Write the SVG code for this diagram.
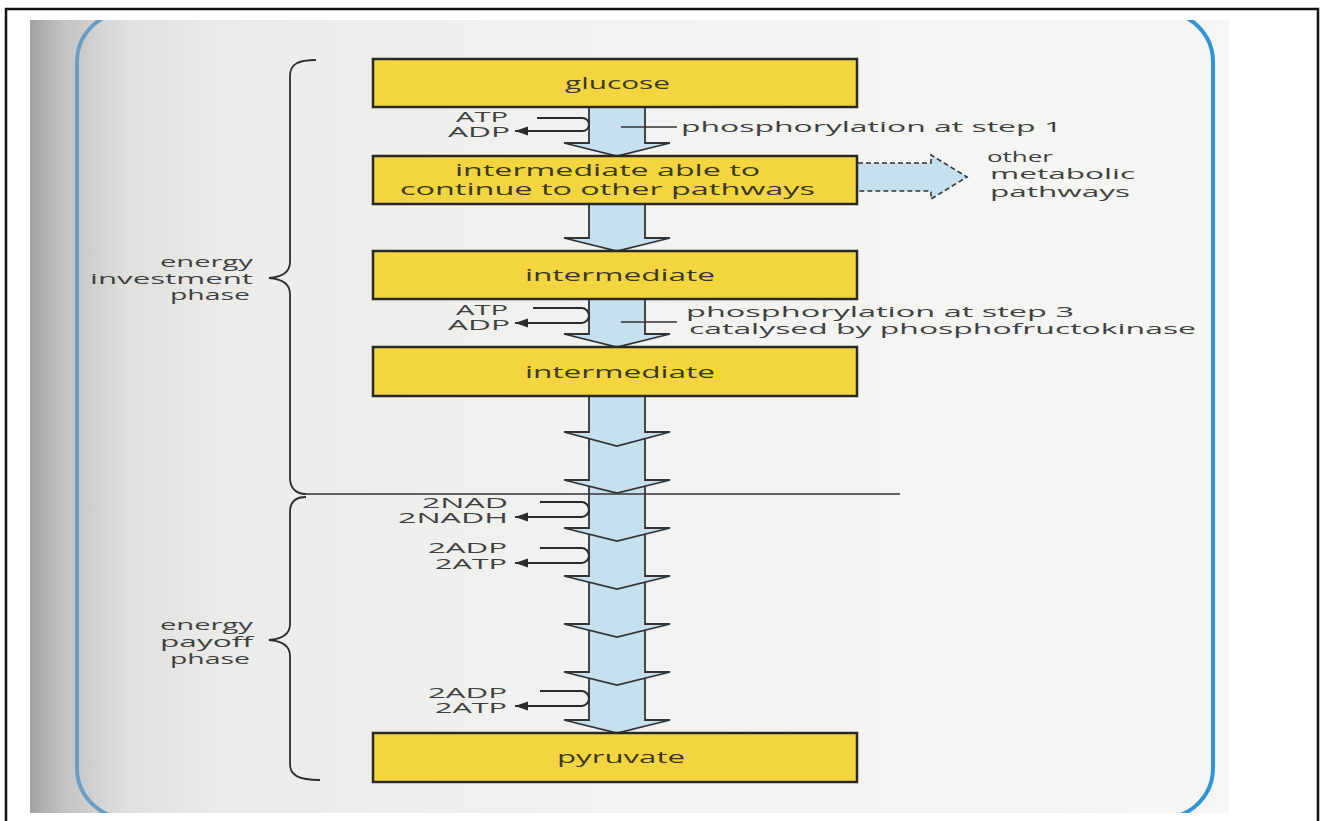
<svg xmlns="http://www.w3.org/2000/svg" width="1321" height="821" viewBox="0 0 1321 821">
<defs>
  <linearGradient id="paper" x1="30" y1="0" x2="1229" y2="0" gradientUnits="userSpaceOnUse">
    <stop offset="0" stop-color="#a3a3a3"/>
    <stop offset="0.03" stop-color="#c4c4c4"/>
    <stop offset="0.08" stop-color="#dfdfdd"/>
    <stop offset="0.16" stop-color="#ebebe9"/>
    <stop offset="0.5" stop-color="#f2f2f0"/>
    <stop offset="1" stop-color="#f6f6f4"/>
  </linearGradient>
  <linearGradient id="rim" x1="77" y1="0" x2="1213" y2="0" gradientUnits="userSpaceOnUse">
    <stop offset="0" stop-color="#6c9dc4"/>
    <stop offset="0.15" stop-color="#4f9fd2"/>
    <stop offset="1" stop-color="#2f95d8"/>
  </linearGradient>
  <clipPath id="photo"><rect x="30" y="20" width="1199" height="793"/></clipPath>
  <marker id="ah" markerUnits="userSpaceOnUse" markerWidth="14" markerHeight="10" refX="13" refY="4.5" orient="auto">
    <path d="M0,0 L13,4.5 L0,9 z" fill="#2b2b2b"/>
  </marker>
  <style>
    .box{fill:#f3d63f;stroke:#2a2a22;stroke-width:2.5}
    .bt{font-family:"Open Sans","DejaVu Sans",sans-serif;font-size:16px;fill:#3a3820}
    .sm{font-family:"Open Sans","DejaVu Sans",sans-serif;font-size:14px;fill:#404040}
    .af{fill:#c6e0f0;stroke:none}
    .as{fill:none;stroke:#333;stroke-width:1.8;stroke-linejoin:miter}
    .hook{fill:none;stroke:#2b2b2b;stroke-width:2;marker-end:url(#ah)}
    .ln{fill:none;stroke:#333;stroke-width:1.6}
    .br{fill:none;stroke:#2e2e2e;stroke-width:1.8}
    .dash{fill:none;stroke:#333;stroke-width:1.6;stroke-dasharray:5 3}
  </style>
</defs>

<rect x="0" y="0" width="1321" height="821" fill="#ffffff"/>
<rect x="6" y="9" width="1312" height="830" fill="none" stroke="#111" stroke-width="2.5"/>

<g id="page" clip-path="url(#photo)">
  <rect x="30" y="20" width="1199" height="793" fill="url(#paper)"/>
  <rect x="77" y="12" width="1136" height="806" rx="50" ry="50" fill="none" stroke="url(#rim)" stroke-width="4"/>
</g>

<g id="connectors">
  <g id="flow">
    <path class="af" d="M589,672 V720 H564 L617,733 L670,720 H645 V672 Z"/>
    <path class="as" d="M589,672 V720 H564 L617,733 L670,720 H645 V672"/>
    <path class="af" d="M589,624 V672 H564 L617,685 L670,672 H645 V624 Z"/>
    <path class="as" d="M589,624 V672 H564 L617,685 L670,672 H645 V624"/>
    <path class="af" d="M589,576 V624 H564 L617,637 L670,624 H645 V576 Z"/>
    <path class="as" d="M589,576 V624 H564 L617,637 L670,624 H645 V576"/>
    <path class="af" d="M589,528 V576 H564 L617,589 L670,576 H645 V528 Z"/>
    <path class="as" d="M589,528 V576 H564 L617,589 L670,576 H645 V528"/>
    <path class="af" d="M589,480 V528 H564 L617,541 L670,528 H645 V480 Z"/>
    <path class="as" d="M589,480 V528 H564 L617,541 L670,528 H645 V480"/>
    <path class="af" d="M589,432 V480 H564 L617,493 L670,480 H645 V432 Z"/>
    <path class="as" d="M589,432 V480 H564 L617,493 L670,480 H645 V432"/>
    <path class="af" d="M589,396 V432 H564 L617,446 L670,432 H645 V396 Z"/>
    <path class="as" d="M589,396 V432 H564 L617,446 L670,432 H645 V396"/>
    <path class="af" d="M589,299 V334 H564 L617,347 L670,334 H645 V299 Z"/>
    <path class="as" d="M589,299 V334 H564 L617,347 L670,334 H645 V299"/>
    <path class="af" d="M589,204 V238 H564 L617,251 L670,238 H645 V204 Z"/>
    <path class="as" d="M589,204 V238 H564 L617,251 L670,238 H645 V204"/>
    <path class="af" d="M589,107 V143 H564 L617,156 L670,143 H645 V107 Z"/>
    <path class="as" d="M589,107 V143 H564 L617,156 L670,143 H645 V107"/>
  </g>
  <g id="branch">
    <path fill="#c6e0f0" d="M858,163 H931 V155 L967,177 L931,199 V191 H858 Z"/>
    <path class="dash" d="M858,163 H931 V155 L967,177 L931,199 V191 H858"/>
  </g>
  <path class="hook" d="M537,118 H582.5 A6.5,6.5 0 0 1 582.5,131 H515"/>
  <path class="hook" d="M533,308 H581.5 A7.5,7.5 0 0 1 581.5,323 H515"/>
  <path class="hook" d="M540,502 H581.5 A7.5,7.5 0 0 1 581.5,517 H515"/>
  <path class="hook" d="M540,548 H581.5 A7.5,7.5 0 0 1 581.5,563 H515"/>
  <path class="hook" d="M540,691 H581.5 A7.5,7.5 0 0 1 581.5,706 H515"/>
  <path class="ln" d="M621,127 H677"/>
  <path class="ln" d="M621,322 H677"/>
  <path class="ln" d="M303,494 H900"/>
</g>

<g id="glucose">
  <rect class="box" x="373" y="59" width="484" height="48"/>
  <text class="bt" x="565" y="89" textLength="105" lengthAdjust="spacingAndGlyphs">glucose</text>
</g>
<g id="intermediate-branch">
  <rect class="box" x="373" y="156" width="484" height="48"/>
  <text class="bt" x="455" y="176" textLength="305" lengthAdjust="spacingAndGlyphs">intermediate able to</text>
  <text class="bt" x="400" y="195" textLength="415" lengthAdjust="spacingAndGlyphs">continue to other pathways</text>
</g>
<g id="intermediate-1">
  <rect class="box" x="373" y="251" width="484" height="48"/>
  <text class="bt" x="525" y="281" textLength="190" lengthAdjust="spacingAndGlyphs">intermediate</text>
</g>
<g id="intermediate-2">
  <rect class="box" x="373" y="347" width="484" height="49"/>
  <text class="bt" x="525" y="378" textLength="190" lengthAdjust="spacingAndGlyphs">intermediate</text>
</g>
<g id="pyruvate">
  <rect class="box" x="373" y="733" width="484" height="49"/>
  <text class="bt" x="557" y="763" textLength="128" lengthAdjust="spacingAndGlyphs">pyruvate</text>
</g>

<g id="other-pathways">
  <text class="sm" x="987" y="162" textLength="66" lengthAdjust="spacingAndGlyphs">other</text>
  <text class="sm" x="990" y="179" textLength="145" lengthAdjust="spacingAndGlyphs">metabolic</text>
  <text class="sm" x="990" y="197" textLength="140" lengthAdjust="spacingAndGlyphs">pathways</text>
</g>

<g id="step1-label">
  <text class="sm" x="681" y="132" textLength="381" lengthAdjust="spacingAndGlyphs">phosphorylation at step 1</text>
</g>
<g id="step3-label">
  <text class="sm" x="686" y="317" textLength="388" lengthAdjust="spacingAndGlyphs">phosphorylation at step 3</text>
  <text class="sm" x="689" y="334" textLength="507" lengthAdjust="spacingAndGlyphs">catalysed by phosphofructokinase</text>
</g>

<g id="cofactors-1">
  <text class="sm" x="456" y="122" textLength="52" lengthAdjust="spacingAndGlyphs">ATP</text>
  <text class="sm" x="448" y="137" textLength="62" lengthAdjust="spacingAndGlyphs">ADP</text>
</g>
<g id="cofactors-2">
  <text class="sm" x="456" y="315" textLength="52" lengthAdjust="spacingAndGlyphs">ATP</text>
  <text class="sm" x="448" y="330" textLength="62" lengthAdjust="spacingAndGlyphs">ADP</text>
</g>
<g id="cofactors-3">
  <text class="sm" x="422" y="508" textLength="86" lengthAdjust="spacingAndGlyphs">2NAD</text>
  <text class="sm" x="398" y="523" textLength="110" lengthAdjust="spacingAndGlyphs">2NADH</text>
</g>
<g id="cofactors-4">
  <text class="sm" x="428" y="553" textLength="79" lengthAdjust="spacingAndGlyphs">2ADP</text>
  <text class="sm" x="435" y="569" textLength="72" lengthAdjust="spacingAndGlyphs">2ATP</text>
</g>
<g id="cofactors-5">
  <text class="sm" x="428" y="698" textLength="79" lengthAdjust="spacingAndGlyphs">2ADP</text>
  <text class="sm" x="435" y="713" textLength="72" lengthAdjust="spacingAndGlyphs">2ATP</text>
</g>

<g id="investment-phase">
  <path class="br" d="M316,60 C298,60 290,64 290,76 V262 C290,272 282,277 269,278 C282,279 290,284 290,294 V478 C290,488 296,494 306,494"/>
  <text class="sm" x="160" y="267" textLength="93" lengthAdjust="spacingAndGlyphs">energy</text>
  <text class="sm" x="90" y="284" textLength="163" lengthAdjust="spacingAndGlyphs">investment</text>
  <text class="sm" x="170" y="300" textLength="80" lengthAdjust="spacingAndGlyphs">phase</text>
</g>
<g id="payoff-phase">
  <path class="br" d="M306,497 C296,497 290,502 290,512 V624 C290,634 282,639 269,640 C282,641 290,646 290,656 V764 C290,775 298,780 320,780"/>
  <text class="sm" x="160" y="630" textLength="93" lengthAdjust="spacingAndGlyphs">energy</text>
  <text class="sm" x="160" y="647" textLength="93" lengthAdjust="spacingAndGlyphs">payoff</text>
  <text class="sm" x="170" y="664" textLength="80" lengthAdjust="spacingAndGlyphs">phase</text>
</g>
</svg>
